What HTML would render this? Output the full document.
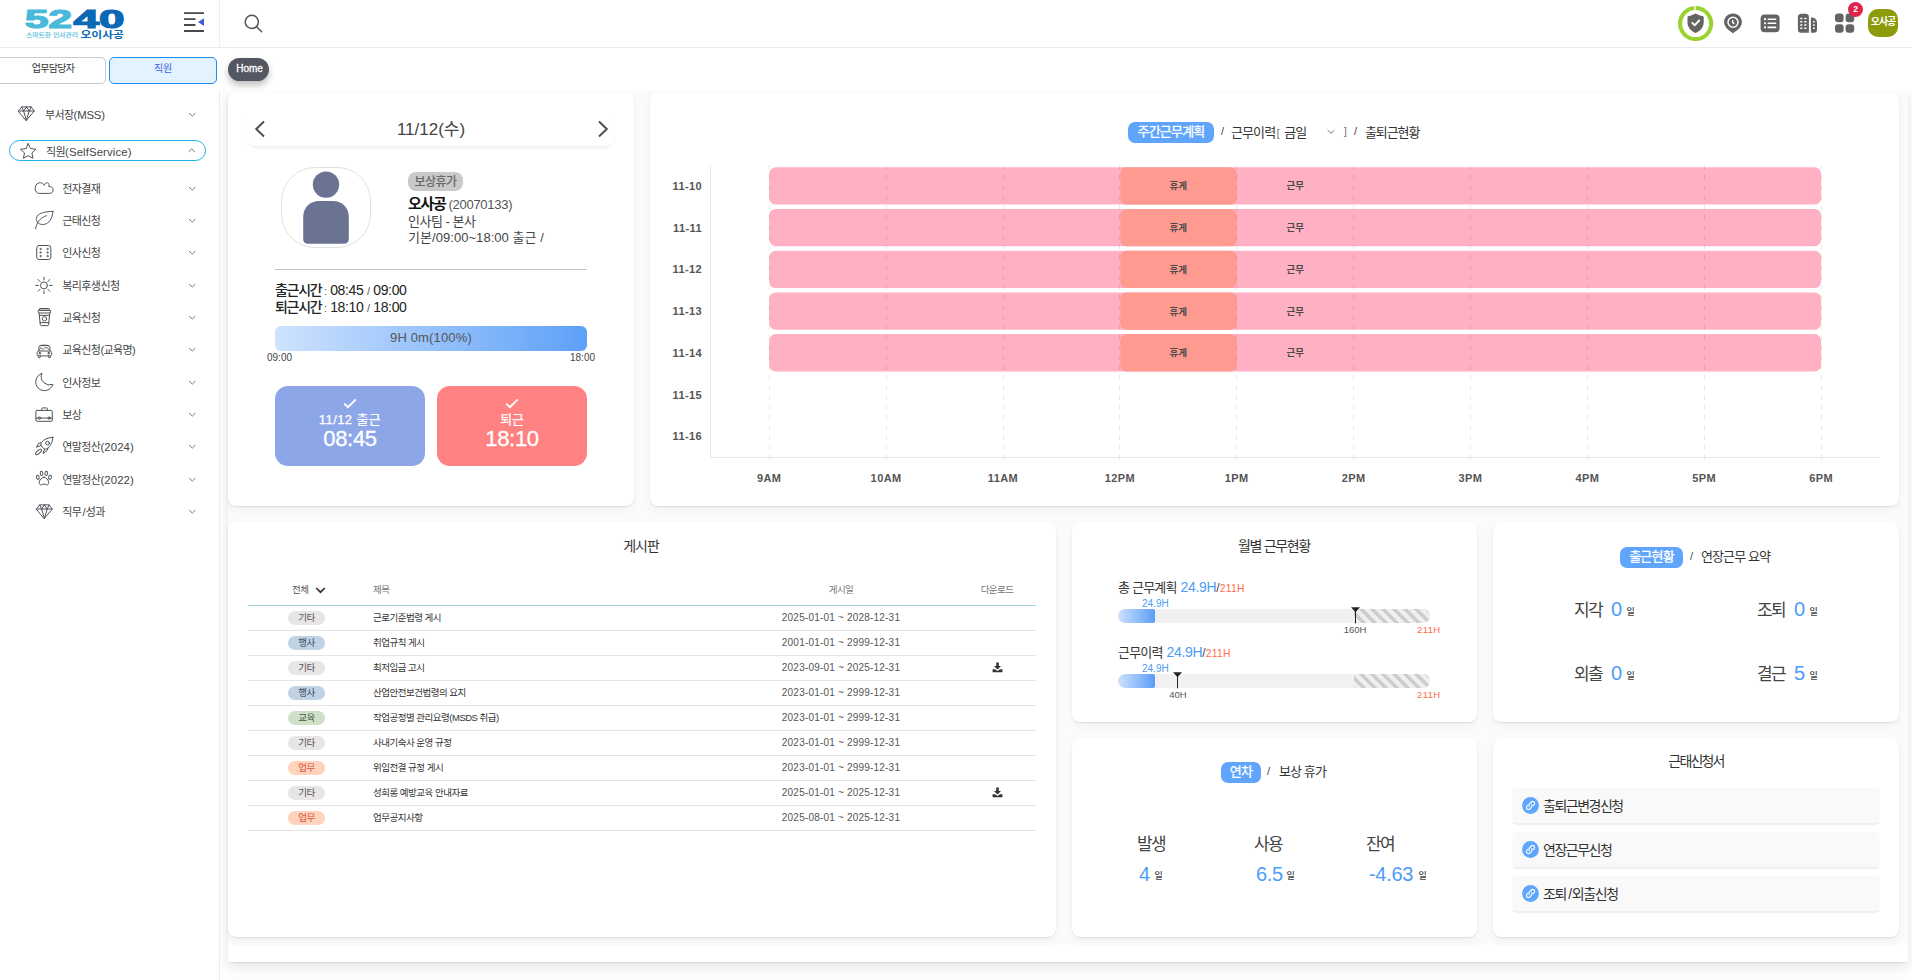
<!DOCTYPE html>
<html lang="ko">
<head>
<meta charset="utf-8">
<title>5240 오이사공</title>
<style>
*{box-sizing:border-box;margin:0;padding:0}
html,body{width:1912px;height:980px;overflow:hidden}
body{position:relative;background:#fdfdfd;font-family:"Liberation Sans","Noto Sans CJK KR","NanumGothic",sans-serif;color:#333;font-size:12px;-webkit-font-smoothing:antialiased}
.abs{position:absolute}
svg{display:block;overflow:visible}
/* header */
#header{position:absolute;left:0;top:0;width:1912px;height:48px;background:#fff;border-bottom:1px solid #ebebeb}
#sidebar{position:absolute;left:0;top:48px;width:220px;height:932px;background:#fff;border-right:1px solid #ececec}
#hdrsep{position:absolute;left:219px;top:0;width:1px;height:48px;background:#ececec}
#tabbar{position:absolute;left:219px;top:48px;width:1693px;height:43px;background:#fff}
.tabbtn{position:absolute;top:57px;height:27px;border-radius:5px;font-size:10px;text-align:center;line-height:22px;letter-spacing:-0.3px}
#homepill{position:absolute;left:228px;top:58px;width:41px;height:23px;border-radius:12px;background:#535663;color:#fff;font-size:10px;text-align:center;line-height:22.5px;box-shadow:0 4px 7px rgba(0,0,0,.26);letter-spacing:-0.1px;-webkit-text-stroke:0.3px #fff;padding-left:2px}
/* sidebar menu */
.mi{position:absolute;left:0;width:219px;height:22px;font-size:11px;color:#444;letter-spacing:-0.6px}
.mi .tx{position:absolute;top:0.8px;line-height:22px;white-space:nowrap}
.mi svg.ic{position:absolute}
.mi svg.cv{position:absolute;left:188px;top:8px}
/* cards */
.card{position:absolute;background:#fff;border-radius:8px;box-shadow:0 1px 1.5px rgba(0,0,0,.09),0 4px 8px rgba(0,0,0,.045)}
#panel{position:absolute;left:228px;top:91px;width:1680px;height:871px;background:#fff;border-radius:0 0 2px 2px;box-shadow:0 1px 1px rgba(0,0,0,.08),0 5px 12px rgba(0,0,0,.09)}
#dash{position:absolute;left:228px;top:91px;width:1680px;height:854px;background:#fbfbfb}
.t{position:absolute;white-space:nowrap;line-height:1}
.pill{position:absolute;background:#5ea5fb;color:#fff;border-radius:7px;text-align:center;white-space:nowrap}
.blue{color:#4c9cf8}
.org{color:#ff6a4d}
</style>
</head>
<body>
<div id="panel"></div>
<div id="dash"></div>
<div id="header"></div>
<div id="hdrsep"></div>
<div id="sidebar"></div>
<div id="tabbar"></div>

<svg class="abs" style="left:0;top:0" width="220" height="48" viewBox="0 0 220 48">
<text x="25" y="27.6" font-family="'Liberation Sans',sans-serif" font-weight="700" font-size="25" fill="#48b9d9" textLength="47" lengthAdjust="spacingAndGlyphs" stroke="#48b9d9" stroke-width="1.2">52</text>
<text x="73.5" y="27.6" font-family="'Liberation Sans',sans-serif" font-weight="700" font-size="25" fill="#0b68b4" textLength="51" lengthAdjust="spacingAndGlyphs" stroke="#0b68b4" stroke-width="1.2">40</text>
<text x="26" y="37" font-family="'Liberation Sans','Noto Sans CJK KR',sans-serif" font-size="5.6" font-weight="500" fill="#48b9d9" textLength="52" lengthAdjust="spacingAndGlyphs">스마트한 인사관리</text>
<text x="80.5" y="37.7" font-family="'Liberation Sans','Noto Sans CJK KR',sans-serif" font-weight="700" font-size="9.2" fill="#0b68b4" textLength="43.5" lengthAdjust="spacingAndGlyphs">오이사공</text>
</svg>
<svg class="abs" style="left:184px;top:12px" width="22" height="21" viewBox="0 0 22 21">
<g stroke="#4a4a4a" stroke-width="1.8" fill="none"><path d="M0 1.2H20M0 7.2H11.5M0 13H11.5M0 19H20"/></g>
<path d="M14 10.1L20 6.2V14Z" fill="#3f5bd9"/>
</svg>
<svg class="abs" style="left:243px;top:13px" width="20" height="20" viewBox="0 0 20 20">
<circle cx="8.8" cy="8.9" r="6.6" fill="none" stroke="#555" stroke-width="1.5"/><path d="M13.6 13.8L18.6 18.8" stroke="#555" stroke-width="1.5" stroke-linecap="round"/>
</svg>
<svg class="abs" style="left:1676px;top:4px" width="40" height="40" viewBox="0 0 40 40">
<circle cx="19.6" cy="19.6" r="15.55" fill="none" stroke="#9bd230" stroke-width="4.1"/>
<path d="M18.85 1V6.4" stroke="#fff" stroke-width="1.3"/>
<path d="M19.6 9.4C17.6 10.6 15 11.6 12.6 11.9C12 12 11.5 12.5 11.5 13.1V18.4C11.5 23.4 15.2 27 19.6 29C24 27 27.7 23.4 27.7 18.4V13.1C27.7 12.5 27.2 12 26.6 11.9C24.2 11.6 21.6 10.6 19.6 9.4Z" fill="#646464"/>
<path d="M16.2 18.9L18.8 21.2L23.2 16.5" fill="none" stroke="#fff" stroke-width="1.9" stroke-linecap="round" stroke-linejoin="round"/>
</svg>
<svg class="abs" style="left:1723px;top:13px" width="20" height="21" viewBox="0 0 20 21">
<path d="M10 0.4C4.9 0.4 1.1 4.2 1.1 9.1C1.1 12.6 3.2 15.2 5.6 17C7.4 18.4 8.8 19.2 10 20.4C11.2 19.2 12.6 18.4 14.4 17C16.8 15.2 18.9 12.6 18.9 9.1C18.9 4.2 15.1 0.4 10 0.4Z" fill="#636363"/>
<circle cx="10" cy="9.3" r="5" fill="none" stroke="#fff" stroke-width="1.5"/><path d="M9.7 7.4V9.5L10.9 10.5" fill="none" stroke="#fff" stroke-width="1.4" stroke-linecap="round"/>
</svg>
<svg class="abs" style="left:1760px;top:14px" width="20" height="19" viewBox="0 0 20 19">
<rect x="0.6" y="0.4" width="19" height="17.8" rx="4" fill="#636363"/>
<g stroke="#fff" stroke-width="1.6" stroke-linecap="round"><path d="M8.2 5.2H15.6M8.2 9.3H15.6M8.2 13.4H15.6"/></g><g fill="#fff"><circle cx="5" cy="5.2" r="1.1"/><circle cx="5" cy="9.3" r="1.1"/><circle cx="5" cy="13.4" r="1.1"/></g>
</svg>
<svg class="abs" style="left:1797px;top:13px" width="21" height="21" viewBox="0 0 21 21">
<path d="M4.1 0.8H8.8C10.6 0.8 11.9 2.1 11.9 3.9V19.8H4C2.2 19.8 0.9 18.5 0.9 16.7V3.9C0.9 2.1 2.3 0.8 4.1 0.8Z" fill="#636363"/>
<path d="M13.9 4.6H14.6C17.8 4.6 20 6.8 20 10V16.8C20 18.6 18.8 19.8 17 19.8H13.9Z" fill="#636363"/>
<g fill="#fff"><rect x="3.2" y="4.7" width="2.2" height="1.6" rx="0.3"/><rect x="7.3" y="4.7" width="2.2" height="1.6" rx="0.3"/><rect x="3.2" y="7.9" width="2.2" height="1.6" rx="0.3"/><rect x="7.3" y="7.9" width="2.2" height="1.6" rx="0.3"/><rect x="3.2" y="11.2" width="2.2" height="1.6" rx="0.3"/><rect x="7.3" y="11.2" width="2.2" height="1.6" rx="0.3"/><rect x="3.2" y="14.4" width="2.2" height="1.6" rx="0.3"/><rect x="7.3" y="14.4" width="2.2" height="1.6" rx="0.3"/><rect x="16.0" y="7.9" width="1.8" height="1.6" rx="0.3"/><rect x="16.0" y="11.2" width="1.8" height="1.6" rx="0.3"/><rect x="16.0" y="14.4" width="1.8" height="1.6" rx="0.3"/></g>
</svg>
<svg class="abs" style="left:1835px;top:13px" width="20" height="20" viewBox="0 0 20 20">
<g fill="#636363"><rect x="0" y="0.6" width="8.6" height="8.6" rx="3"/><rect x="10.6" y="0.6" width="8.6" height="8.6" rx="3"/><rect x="0" y="11.2" width="8.6" height="8.6" rx="3"/><rect x="10.6" y="11.2" width="8.6" height="8.6" rx="3"/></g>
</svg>
<div class="abs" style="left:1848.2px;top:2.4px;width:14.8px;height:14.2px;border-radius:8px;background:#e0234d;color:#fff;font-size:8.5px;font-weight:700;text-align:center;line-height:14.5px">2</div>
<div class="abs" style="left:1868px;top:9px;width:30px;height:28px;border-radius:10px;background:#8d9b0b;color:#fff;font-size:10px;font-weight:700;text-align:center;line-height:26px;letter-spacing:-1px">오사공</div>
<div class="tabbtn" style="left:-3px;width:109px;background:#fff;border:1px solid #c9c9c9;color:#333;padding-left:3px;letter-spacing:-0.7px">업무담당자</div>
<div class="tabbtn" style="left:109px;width:108px;background:#e3f2ff;border:1.5px solid #1f8df5;color:#3a63e0">직원</div>
<div id="homepill">Home</div>
<div class="mi" style="top:103px"><svg class="ic" style="left:18px;top:3.0px" width="19" height="19" viewBox="0 0 19 19"><g stroke="#4f5359" stroke-width="1" fill="none" stroke-linejoin="round" stroke-linecap="round"><path d="M0.5 5L3.7 0.9H13.1L16.3 5L8.4 14.3Z M0.5 5H16.3 M3.7 0.9L5.6 5L8.4 14.3 M13.1 0.9L11.2 5L8.4 14.3 M8.4 0.9L5.6 5 M8.4 0.9L11.2 5"/></g></svg><span class="tx" style="left:45px">부서장<span style="letter-spacing:-0.2px;font-size:11.4px">(MSS)</span></span><svg class="cv" width="9" height="7" viewBox="0 0 9 7"><path d="M1.2 2.1L4.3 5.1L7.4 2.1" stroke="#74777c" stroke-width="1" fill="none" stroke-linejoin="round"/></svg></div>
<div class="abs" style="left:9px;top:140px;width:197px;height:21px;border:1.5px solid #1bb4ea;border-radius:10.5px"></div>
<div class="mi" style="top:140px"><svg class="ic" style="left:18.5px;top:1.5px" width="19" height="19" viewBox="0 0 19 19"><g stroke="#4f5359" stroke-width="1" fill="none" stroke-linejoin="round" stroke-linecap="round"><path d="M9.20 1.65L11.49 6.59L16.90 7.25L12.91 10.96L13.96 16.30L9.20 13.65L4.44 16.30L5.49 10.96L1.50 7.25L6.91 6.59Z"/></g></svg><span class="tx" style="left:46px">직원<span style="letter-spacing:0.1px;font-size:11.4px">(SelfService)</span></span><svg class="cv" width="9" height="7" viewBox="0 0 9 7"><path d="M0.5 3.9L3.65 0.9L6.8 3.9" stroke="#74777c" stroke-width="1" fill="none" stroke-linejoin="round"/></svg></div>
<div class="mi" style="top:177px"><svg class="ic" style="left:35px;top:5.0px" width="19" height="19" viewBox="0 0 19 19"><g stroke="#4f5359" stroke-width="1" fill="none" stroke-linejoin="round" stroke-linecap="round"><path d="M3.8 11.4C1.6 11.4 0.2 9.2 0.2 6.4C0.2 3 2.4 0.7 5.3 0.7C7 0.7 8.5 1.8 9.3 3.4C9.6 1.8 10.6 0.85 11.6 0.85C13 0.85 14 1.6 14.2 2.6C14 3.2 13.8 3.8 13.6 4.3C16.2 4.3 18.1 5.6 18.1 7.8C18.1 9.8 16.8 11.4 15 11.4Z"/></g></svg><span class="tx" style="left:62.3px">전자결재</span><svg class="cv" width="9" height="7" viewBox="0 0 9 7"><path d="M1.2 2.1L4.3 5.1L7.4 2.1" stroke="#74777c" stroke-width="1" fill="none" stroke-linejoin="round"/></svg></div>
<div class="mi" style="top:209px"><svg class="ic" style="left:35px;top:2.0px" width="19" height="19" viewBox="0 0 19 19"><g stroke="#4f5359" stroke-width="1" fill="none" stroke-linejoin="round" stroke-linecap="round"><path d="M17.9 0.4C11 0.6 4.6 1.6 2.2 5.2C0.4 8.2 1.6 11.4 4.4 12.8C8 14.4 12.4 13.2 15 9.6C17 6.8 17.7 3.4 17.9 0.4Z M0.6 17.7C1.6 11.6 5 6.6 11.5 4.7"/></g></svg><span class="tx" style="left:62.3px">근태신청</span><svg class="cv" width="9" height="7" viewBox="0 0 9 7"><path d="M1.2 2.1L4.3 5.1L7.4 2.1" stroke="#74777c" stroke-width="1" fill="none" stroke-linejoin="round"/></svg></div>
<div class="mi" style="top:241px"><svg class="ic" style="left:35px;top:2.0px" width="19" height="19" viewBox="0 0 19 19"><g stroke="#4f5359" stroke-width="1" fill="none" stroke-linejoin="round" stroke-linecap="round"><rect x="1.7" y="2.5" width="14.2" height="14" rx="2.4"/><g stroke-width="0.8"><circle cx="5.5" cy="6" r="0.7"/><circle cx="12.5" cy="6" r="0.7"/><circle cx="5.5" cy="9.5" r="0.7"/><circle cx="12.5" cy="9.5" r="0.7"/><circle cx="5.5" cy="13.1" r="0.7"/><circle cx="12.5" cy="13.1" r="0.7"/></g></g></svg><span class="tx" style="left:62.3px">인사신청</span><svg class="cv" width="9" height="7" viewBox="0 0 9 7"><path d="M1.2 2.1L4.3 5.1L7.4 2.1" stroke="#74777c" stroke-width="1" fill="none" stroke-linejoin="round"/></svg></div>
<div class="mi" style="top:274px"><svg class="ic" style="left:35px;top:2.0px" width="19" height="19" viewBox="0 0 19 19"><g stroke="#4f5359" stroke-width="1" fill="none" stroke-linejoin="round" stroke-linecap="round"><circle cx="8.95" cy="9.4" r="3.5"/><path d="M14.45 9.40L17.25 9.40M12.84 13.29L14.82 15.27M8.95 14.90L8.95 17.70M5.06 13.29L3.08 15.27M3.45 9.40L0.65 9.40M5.06 5.51L3.08 3.53M8.95 3.90L8.95 1.10M12.84 5.51L14.82 3.53"/></g></svg><span class="tx" style="left:62.3px">복리후생신청</span><svg class="cv" width="9" height="7" viewBox="0 0 9 7"><path d="M1.2 2.1L4.3 5.1L7.4 2.1" stroke="#74777c" stroke-width="1" fill="none" stroke-linejoin="round"/></svg></div>
<div class="mi" style="top:306px"><svg class="ic" style="left:35px;top:2.0px" width="19" height="19" viewBox="0 0 19 19"><g stroke="#4f5359" stroke-width="1" fill="none" stroke-linejoin="round" stroke-linecap="round"><path d="M5.2 0.5H13.7C14.1 0.5 14.4 0.8 14.4 1.2V2.3H4.5V1.2C4.5 0.8 4.8 0.5 5.2 0.5Z M3.9 2.3H15C15.4 2.3 15.7 2.6 15.7 3V4.3C15.7 4.7 15.4 5 15 5H3.9C3.5 5 3.2 4.7 3.2 4.3V3C3.2 2.6 3.5 2.3 3.9 2.3Z M4.1 5L5.3 16.8C5.35 17.3 5.7 17.6 6.2 17.6H12.7C13.2 17.6 13.55 17.3 13.6 16.8L14.8 5 M4.35 7.4H14.55 M5.1 14.6H13.8"/><circle cx="9.45" cy="10.8" r="2.2"/></g></svg><span class="tx" style="left:62.3px">교육신청</span><svg class="cv" width="9" height="7" viewBox="0 0 9 7"><path d="M1.2 2.1L4.3 5.1L7.4 2.1" stroke="#74777c" stroke-width="1" fill="none" stroke-linejoin="round"/></svg></div>
<div class="mi" style="top:338px"><svg class="ic" style="left:35px;top:2.0px" width="19" height="19" viewBox="0 0 19 19"><g stroke="#4f5359" stroke-width="1" fill="none" stroke-linejoin="round" stroke-linecap="round"><path d="M3.9 11V7.6C3.9 6.4 4.7 5.6 5.9 5.6H12.9C14.1 5.6 14.9 6.4 14.9 7.6V11 M5 5.7C7.4 4.9 11.4 4.9 13.8 5.7 M3.9 11C2.8 11 2.1 11.8 2.1 12.8V14.4C2.1 15.3 2.7 15.9 3.6 15.9H15.2C16.1 15.9 16.7 15.3 16.7 14.4V12.8C16.7 11.8 16 11 14.9 11Z M3.3 15.9V16.9C3.3 17.5 3.7 17.9 4.3 17.9C4.9 17.9 5.3 17.5 5.3 16.9V15.9 M13.5 15.9V16.9C13.5 17.5 13.9 17.9 14.5 17.9C15.1 17.9 15.5 17.5 15.5 16.9V15.9 M4.2 9.6C5.6 7.4 7 7.4 8 9.4 M9 8.4C10 7.2 12.4 7.2 14.4 9.6"/><rect x="4" y="12.6" width="1.9" height="1.3" rx="0.4"/><rect x="12.9" y="12.6" width="1.9" height="1.3" rx="0.4"/></g></svg><span class="tx" style="left:62.3px">교육신청(교육명)</span><svg class="cv" width="9" height="7" viewBox="0 0 9 7"><path d="M1.2 2.1L4.3 5.1L7.4 2.1" stroke="#74777c" stroke-width="1" fill="none" stroke-linejoin="round"/></svg></div>
<div class="mi" style="top:371px"><svg class="ic" style="left:35px;top:2.0px" width="19" height="19" viewBox="0 0 19 19"><g stroke="#4f5359" stroke-width="1" fill="none" stroke-linejoin="round" stroke-linecap="round"><path d="M6.7 0.5A8.8 8.8 0 1 0 17.9 11.3A8.5 8.5 0 0 1 6.7 0.5Z"/></g></svg><span class="tx" style="left:62.3px">인사정보</span><svg class="cv" width="9" height="7" viewBox="0 0 9 7"><path d="M1.2 2.1L4.3 5.1L7.4 2.1" stroke="#74777c" stroke-width="1" fill="none" stroke-linejoin="round"/></svg></div>
<div class="mi" style="top:403px"><svg class="ic" style="left:35px;top:2.0px" width="19" height="19" viewBox="0 0 19 19"><g stroke="#4f5359" stroke-width="1" fill="none" stroke-linejoin="round" stroke-linecap="round"><rect x="0.9" y="5.4" width="16.4" height="10.9" rx="1.2"/><path d="M6.7 5.4V3.9C6.7 3.3 7.1 2.9 7.7 2.9H11.4C12 2.9 12.4 3.3 12.4 3.9V5.4 M0.9 13.1H17.3"/><circle cx="4.4" cy="13.1" r="1.15"/><circle cx="14.1" cy="13.1" r="1.15"/></g></svg><span class="tx" style="left:62.3px">보상</span><svg class="cv" width="9" height="7" viewBox="0 0 9 7"><path d="M1.2 2.1L4.3 5.1L7.4 2.1" stroke="#74777c" stroke-width="1" fill="none" stroke-linejoin="round"/></svg></div>
<div class="mi" style="top:435px"><svg class="ic" style="left:35px;top:2.0px" width="19" height="19" viewBox="0 0 19 19"><g stroke="#4f5359" stroke-width="1" fill="none" stroke-linejoin="round" stroke-linecap="round"><path d="M17.8 0.3C12.6 0.5 8.6 2.6 6.2 5.6C5.6 7 5.8 8.6 6.9 9.8C7.8 10.9 8.8 11.7 9.8 12.1C11.2 12.2 12.4 11.8 13.2 10.8C16.4 7.6 17.7 4.2 17.8 0.3Z M6.2 5.6L3.6 6.4L1.4 10.2L6.1 8.4 M13.2 10.8L12 13.6L8 16.6L9.6 12.1"/><ellipse cx="3.5" cy="15" rx="3.7" ry="1.5" transform="rotate(-42 3.5 15)"/><circle cx="12.5" cy="6.1" r="1.85"/></g></svg><span class="tx" style="left:62.3px">연말정산<span style="letter-spacing:0.1px;font-size:11.4px">(2024)</span></span><svg class="cv" width="9" height="7" viewBox="0 0 9 7"><path d="M1.2 2.1L4.3 5.1L7.4 2.1" stroke="#74777c" stroke-width="1" fill="none" stroke-linejoin="round"/></svg></div>
<div class="mi" style="top:468px"><svg class="ic" style="left:35px;top:2.0px" width="19" height="19" viewBox="0 0 19 19"><g stroke="#4f5359" stroke-width="1" fill="none" stroke-linejoin="round" stroke-linecap="round"><path d="M8.95 7.2C11.4 7.2 13.7 10.4 13.7 12.7C13.7 14.1 12.8 14.9 11.6 14.9C10.6 14.9 9.9 13.9 8.95 13.9C8 13.9 7.3 14.9 6.3 14.9C5.1 14.9 4.2 14.1 4.2 12.7C4.2 10.4 6.5 7.2 8.95 7.2Z"/><ellipse cx="2.8" cy="7.3" rx="1.35" ry="2.1" transform="rotate(-14 2.8 7.3)"/><ellipse cx="6.55" cy="3.4" rx="1.3" ry="2.2" transform="rotate(-6 6.55 3.4)"/><ellipse cx="11.2" cy="3.4" rx="1.3" ry="2.2" transform="rotate(6 11.2 3.4)"/><ellipse cx="15" cy="7.3" rx="1.35" ry="2.1" transform="rotate(14 15 7.3)"/></g></svg><span class="tx" style="left:62.3px">연말정산<span style="letter-spacing:0.1px;font-size:11.4px">(2022)</span></span><svg class="cv" width="9" height="7" viewBox="0 0 9 7"><path d="M1.2 2.1L4.3 5.1L7.4 2.1" stroke="#74777c" stroke-width="1" fill="none" stroke-linejoin="round"/></svg></div>
<div class="mi" style="top:500px"><svg class="ic" style="left:35.5px;top:3.8px" width="19" height="19" viewBox="0 0 19 19"><g stroke="#4f5359" stroke-width="1" fill="none" stroke-linejoin="round" stroke-linecap="round"><path d="M0.5 5L3.7 0.9H13.1L16.3 5L8.4 14.3Z M0.5 5H16.3 M3.7 0.9L5.6 5L8.4 14.3 M13.1 0.9L11.2 5L8.4 14.3 M8.4 0.9L5.6 5 M8.4 0.9L11.2 5"/></g></svg><span class="tx" style="left:62.3px">직무<span style="font-size:11.4px;margin:0 0.6px 0 1.2px">/</span>성과</span><svg class="cv" width="9" height="7" viewBox="0 0 9 7"><path d="M1.2 2.1L4.3 5.1L7.4 2.1" stroke="#74777c" stroke-width="1" fill="none" stroke-linejoin="round"/></svg></div>
<div class="card" style="left:228px;top:92px;width:406px;height:414px"></div>
<div class="abs" style="left:248px;top:108px;width:366px;height:38px;background:#fff;border-radius:8px;box-shadow:0 3px 4px -2px rgba(0,0,0,.10)"></div>
<svg class="abs" style="left:254px;top:119.5px" width="12" height="18" viewBox="0 0 12 18"><path d="M10 1.5L2.2 9L10 16.5" fill="none" stroke="#4c4c4c" stroke-width="1.9"/></svg>
<svg class="abs" style="left:596.5px;top:119.5px" width="12" height="18" viewBox="0 0 12 18"><path d="M2 1.5L9.8 9L2 16.5" fill="none" stroke="#4c4c4c" stroke-width="1.9"/></svg>
<div class="t" style="left:331px;top:120.5px;width:200px;text-align:center;font-size:17px;color:#444;letter-spacing:0px">11/12(수)</div>
<div class="abs" style="left:281px;top:167px;width:90px;height:81px;border:1px solid #e0e0e0;border-radius:34px;background:#fff"></div>
<svg class="abs" style="left:281px;top:167px" width="90" height="81" viewBox="0 0 90 81"><circle cx="45" cy="17.6" r="13.2" fill="#6a7391"/><path d="M22.2 50C22.2 40.5 29 34 38 34H52C61 34 67.8 40.5 67.8 50V72C67.8 75 66 76.8 63 76.8H27C24 76.8 22.2 75 22.2 72Z" fill="#6a7391"/></svg>
<div class="abs" style="left:408px;top:172px;width:55px;height:19px;border-radius:8px;background:#c9c9c9;color:#666;font-size:12px;text-align:center;line-height:20.5px;letter-spacing:-0.5px;font-weight:500">보상휴가</div>
<div class="t" style="left:408px;top:196px;font-size:15px;color:#111;font-weight:700;letter-spacing:-1.3px">오사공 <span style="font-size:13px;font-weight:400;color:#555;letter-spacing:-0.25px">(20070133)</span></div>
<div class="t" style="left:408px;top:214.5px;font-size:13px;color:#444;letter-spacing:-0.5px">인사팀 - 본사</div>
<div class="t" style="left:408px;top:231px;font-size:13px;color:#444;letter-spacing:0.05px">기본/09:00~18:00 출근 /</div>
<div class="abs" style="left:275px;top:269px;width:312px;height:1px;background:#c4c4c4"></div>
<div class="t" style="left:275px;top:283px;font-size:14px;color:#222;letter-spacing:-0.35px"><span style="letter-spacing:-1.3px;font-weight:500">출근시간</span> <span style="font-size:11px;color:#555;margin-left:-1px">:</span> 08:45 <span style="font-size:11px;color:#555">/</span> 09:00</div>
<div class="t" style="left:275px;top:300px;font-size:14px;color:#222;letter-spacing:-0.35px"><span style="letter-spacing:-1.3px;font-weight:500">퇴근시간</span> <span style="font-size:11px;color:#555;margin-left:-1px">:</span> 18:10 <span style="font-size:11px;color:#555">/</span> 18:00</div>
<div class="abs" style="left:275px;top:326px;width:312px;height:25px;border-radius:6px;background:linear-gradient(90deg,#cfe3fe,#5da0f8);color:#555;font-size:13px;text-align:center;line-height:24.5px;letter-spacing:0.15px">9H 0m(100%)</div>
<div class="t" style="left:267px;top:353px;font-size:10px;color:#444">09:00</div>
<div class="t" style="left:570px;top:353px;font-size:10px;color:#444">18:00</div>
<div class="abs" style="left:275px;top:386px;width:150px;height:80px;border-radius:13px;background:#8da6e8"></div>
<div class="abs" style="left:437px;top:386px;width:150px;height:80px;border-radius:13px;background:#ff8181"></div>
<svg class="abs" style="left:343px;top:398px" width="14" height="11" viewBox="0 0 14 11"><path d="M1.2 5.6L5 9.2L12.8 1.4" fill="none" stroke="#fff" stroke-width="1.9"/></svg>
<svg class="abs" style="left:505px;top:398px" width="14" height="11" viewBox="0 0 14 11"><path d="M1.2 5.6L5 9.2L12.8 1.4" fill="none" stroke="#fff" stroke-width="1.9"/></svg>
<div class="t" style="left:275px;top:413px;width:150px;text-align:center;font-size:13px;color:#fff;letter-spacing:0.4px;-webkit-text-stroke:0.25px #fff">11/12 출근</div>
<div class="t" style="left:275px;top:427.5px;width:150px;text-align:center;font-size:22px;color:#fff;letter-spacing:-0.3px;-webkit-text-stroke:0.3px #fff">08:45</div>
<div class="t" style="left:437px;top:413px;width:150px;text-align:center;font-size:13px;color:#fff;letter-spacing:-0.3px;-webkit-text-stroke:0.25px #fff">퇴근</div>
<div class="t" style="left:437px;top:427.5px;width:150px;text-align:center;font-size:22px;color:#fff;letter-spacing:-0.3px;-webkit-text-stroke:0.3px #fff">18:10</div>
<div class="card" style="left:650px;top:92px;width:1249px;height:414px"></div>
<div class="pill" style="left:1128px;top:122px;width:86px;height:21px;font-size:13px;line-height:20px;letter-spacing:-0.8px;-webkit-text-stroke:0.3px #fff">주간근무계획</div>
<div class="t" style="left:1221px;top:126px;font-size:11px;color:#444">/</div>
<div class="t" style="left:1231px;top:125.5px;font-size:13px;color:#333;letter-spacing:-0.9px">근무이력<span style="font-size:10px;color:#666;margin-left:1.5px">[</span><span style="margin-left:5.5px">금일</span></div>
<svg class="abs" style="left:1325.5px;top:129px" width="10" height="6" viewBox="0 0 10 6"><path d="M1.6 1L5 4.3L8.4 1" fill="none" stroke="#777" stroke-width="1"/></svg>
<div class="t" style="left:1344px;top:127px;font-size:10px;color:#666">]</div>
<div class="t" style="left:1354px;top:126px;font-size:11px;color:#444">/</div>
<div class="t" style="left:1365px;top:125.5px;font-size:13px;color:#333;letter-spacing:-1.1px">출퇴근현황</div>
<svg class="abs" style="left:650px;top:92px" width="1249" height="413" viewBox="650 92 1249 413">
<rect x="769.2" y="167.2" width="1051.9" height="37.4" rx="6.6" fill="#ffb0c2"/>
<rect x="1120.2" y="167.2" width="116.5" height="37.4" rx="6.6" fill="#ff9a90"/>
<rect x="769.2" y="208.9" width="1051.9" height="37.4" rx="6.6" fill="#ffb0c2"/>
<rect x="1120.2" y="208.9" width="116.5" height="37.4" rx="6.6" fill="#ff9a90"/>
<rect x="769.2" y="250.7" width="1051.9" height="37.4" rx="6.6" fill="#ffb0c2"/>
<rect x="1120.2" y="250.7" width="116.5" height="37.4" rx="6.6" fill="#ff9a90"/>
<rect x="769.2" y="292.4" width="1051.9" height="37.4" rx="6.6" fill="#ffb0c2"/>
<rect x="1120.2" y="292.4" width="116.5" height="37.4" rx="6.6" fill="#ff9a90"/>
<rect x="769.2" y="334.1" width="1051.9" height="37.4" rx="6.6" fill="#ffb0c2"/>
<rect x="1120.2" y="334.1" width="116.5" height="37.4" rx="6.6" fill="#ff9a90"/>
<path d="M769.5 165.0V463" stroke="#000" stroke-opacity="0.085" stroke-width="1" stroke-dasharray="5 5" fill="none"/>
<path d="M886.5 165.0V463" stroke="#000" stroke-opacity="0.085" stroke-width="1" stroke-dasharray="5 5" fill="none"/>
<path d="M1003.5 165.0V463" stroke="#000" stroke-opacity="0.085" stroke-width="1" stroke-dasharray="5 5" fill="none"/>
<path d="M1119.5 165.0V463" stroke="#000" stroke-opacity="0.085" stroke-width="1" stroke-dasharray="5 5" fill="none"/>
<path d="M1236.5 165.0V463" stroke="#000" stroke-opacity="0.085" stroke-width="1" stroke-dasharray="5 5" fill="none"/>
<path d="M1353.5 165.0V463" stroke="#000" stroke-opacity="0.085" stroke-width="1" stroke-dasharray="5 5" fill="none"/>
<path d="M1470.5 165.0V463" stroke="#000" stroke-opacity="0.085" stroke-width="1" stroke-dasharray="5 5" fill="none"/>
<path d="M1587.5 165.0V463" stroke="#000" stroke-opacity="0.085" stroke-width="1" stroke-dasharray="5 5" fill="none"/>
<path d="M1704.5 165.0V463" stroke="#000" stroke-opacity="0.085" stroke-width="1" stroke-dasharray="5 5" fill="none"/>
<path d="M1821.5 165.0V463" stroke="#000" stroke-opacity="0.085" stroke-width="1" stroke-dasharray="5 5" fill="none"/>
<path d="M710.5 165.0V457.5H1880" stroke="#e7e7e7" stroke-width="1" fill="none"/>
<text x="702" y="189.9" text-anchor="end" letter-spacing="0.4" font-family="'Liberation Sans',sans-serif" font-weight="700" font-size="11" fill="#555">11-10</text>
<text x="702" y="231.6" text-anchor="end" letter-spacing="0.4" font-family="'Liberation Sans',sans-serif" font-weight="700" font-size="11" fill="#555">11-11</text>
<text x="702" y="273.4" text-anchor="end" letter-spacing="0.4" font-family="'Liberation Sans',sans-serif" font-weight="700" font-size="11" fill="#555">11-12</text>
<text x="702" y="315.1" text-anchor="end" letter-spacing="0.4" font-family="'Liberation Sans',sans-serif" font-weight="700" font-size="11" fill="#555">11-13</text>
<text x="702" y="356.8" text-anchor="end" letter-spacing="0.4" font-family="'Liberation Sans',sans-serif" font-weight="700" font-size="11" fill="#555">11-14</text>
<text x="702" y="398.6" text-anchor="end" letter-spacing="0.4" font-family="'Liberation Sans',sans-serif" font-weight="700" font-size="11" fill="#555">11-15</text>
<text x="702" y="440.3" text-anchor="end" letter-spacing="0.4" font-family="'Liberation Sans',sans-serif" font-weight="700" font-size="11" fill="#555">11-16</text>
<text x="769.2" y="482" text-anchor="middle" letter-spacing="0.4" font-family="'Liberation Sans',sans-serif" font-weight="700" font-size="11" fill="#555">9AM</text>
<text x="886.1" y="482" text-anchor="middle" letter-spacing="0.4" font-family="'Liberation Sans',sans-serif" font-weight="700" font-size="11" fill="#555">10AM</text>
<text x="1003.0" y="482" text-anchor="middle" letter-spacing="0.4" font-family="'Liberation Sans',sans-serif" font-weight="700" font-size="11" fill="#555">11AM</text>
<text x="1119.8" y="482" text-anchor="middle" letter-spacing="0.4" font-family="'Liberation Sans',sans-serif" font-weight="700" font-size="11" fill="#555">12PM</text>
<text x="1236.7" y="482" text-anchor="middle" letter-spacing="0.4" font-family="'Liberation Sans',sans-serif" font-weight="700" font-size="11" fill="#555">1PM</text>
<text x="1353.6" y="482" text-anchor="middle" letter-spacing="0.4" font-family="'Liberation Sans',sans-serif" font-weight="700" font-size="11" fill="#555">2PM</text>
<text x="1470.5" y="482" text-anchor="middle" letter-spacing="0.4" font-family="'Liberation Sans',sans-serif" font-weight="700" font-size="11" fill="#555">3PM</text>
<text x="1587.4" y="482" text-anchor="middle" letter-spacing="0.4" font-family="'Liberation Sans',sans-serif" font-weight="700" font-size="11" fill="#555">4PM</text>
<text x="1704.2" y="482" text-anchor="middle" letter-spacing="0.4" font-family="'Liberation Sans',sans-serif" font-weight="700" font-size="11" fill="#555">5PM</text>
<text x="1821.1" y="482" text-anchor="middle" letter-spacing="0.4" font-family="'Liberation Sans',sans-serif" font-weight="700" font-size="11" fill="#555">6PM</text>
<text x="1178.3" y="189.4" text-anchor="middle" font-family="'Liberation Sans','Noto Sans CJK KR',sans-serif" font-weight="700" font-size="9.5" fill="#4a4a4a">휴게</text>
<text x="1295.2" y="189.4" text-anchor="middle" font-family="'Liberation Sans','Noto Sans CJK KR',sans-serif" font-weight="700" font-size="9.5" fill="#4a4a4a">근무</text>
<text x="1178.3" y="231.1" text-anchor="middle" font-family="'Liberation Sans','Noto Sans CJK KR',sans-serif" font-weight="700" font-size="9.5" fill="#4a4a4a">휴게</text>
<text x="1295.2" y="231.1" text-anchor="middle" font-family="'Liberation Sans','Noto Sans CJK KR',sans-serif" font-weight="700" font-size="9.5" fill="#4a4a4a">근무</text>
<text x="1178.3" y="272.9" text-anchor="middle" font-family="'Liberation Sans','Noto Sans CJK KR',sans-serif" font-weight="700" font-size="9.5" fill="#4a4a4a">휴게</text>
<text x="1295.2" y="272.9" text-anchor="middle" font-family="'Liberation Sans','Noto Sans CJK KR',sans-serif" font-weight="700" font-size="9.5" fill="#4a4a4a">근무</text>
<text x="1178.3" y="314.6" text-anchor="middle" font-family="'Liberation Sans','Noto Sans CJK KR',sans-serif" font-weight="700" font-size="9.5" fill="#4a4a4a">휴게</text>
<text x="1295.2" y="314.6" text-anchor="middle" font-family="'Liberation Sans','Noto Sans CJK KR',sans-serif" font-weight="700" font-size="9.5" fill="#4a4a4a">근무</text>
<text x="1178.3" y="356.3" text-anchor="middle" font-family="'Liberation Sans','Noto Sans CJK KR',sans-serif" font-weight="700" font-size="9.5" fill="#4a4a4a">휴게</text>
<text x="1295.2" y="356.3" text-anchor="middle" font-family="'Liberation Sans','Noto Sans CJK KR',sans-serif" font-weight="700" font-size="9.5" fill="#4a4a4a">근무</text>
</svg>
<div class="card" style="left:228px;top:522px;width:828px;height:415px"></div>
<div class="t" style="left:541px;top:539px;width:200px;text-align:center;font-size:14px;color:#333;letter-spacing:-1px">게시판</div>
<div class="t" style="left:292px;top:585px;font-size:9.5px;color:#555;letter-spacing:-0.6px">전체</div>
<svg class="abs" style="left:315px;top:587px" width="11" height="7" viewBox="0 0 11 7"><path d="M1.2 1L5.5 5.2L9.8 1" fill="none" stroke="#333" stroke-width="1.7"/></svg>
<div class="t" style="left:373px;top:585px;font-size:9.5px;color:#777;letter-spacing:-0.6px">제목</div>
<div class="t" style="left:791px;top:585px;width:100px;text-align:center;font-size:9.5px;color:#777;letter-spacing:-0.6px">게시일</div>
<div class="t" style="left:947px;top:585px;width:100px;text-align:center;font-size:9.5px;color:#777;letter-spacing:-0.6px">다운로드</div>
<div class="abs" style="left:248px;top:605px;width:788px;height:1px;background:#a5d3e3"></div>
<div class="abs" style="left:288px;top:610.7px;width:37px;height:14px;border-radius:7px;background:#e8e6e4;color:#555;font-size:9.5px;text-align:center;line-height:13.5px;letter-spacing:-0.5px">기타</div>
<div class="t" style="left:373px;top:612.7px;font-size:9.5px;color:#333;letter-spacing:-0.5px">근로기준법령 게시</div>
<div class="t" style="left:741px;top:612.7px;width:200px;text-align:center;font-size:10px;color:#555;letter-spacing:0.2px;margin-top:0.5px">2025-01-01 ~ 2028-12-31</div>
<div class="abs" style="left:248px;top:630px;width:788px;height:1px;background:#e3e3e3"></div>
<div class="abs" style="left:288px;top:635.7px;width:37px;height:14px;border-radius:7px;background:#c0d3e4;color:#3a4a5a;font-size:9.5px;text-align:center;line-height:13.5px;letter-spacing:-0.5px">행사</div>
<div class="t" style="left:373px;top:637.7px;font-size:9.5px;color:#333;letter-spacing:-0.5px">취업규칙 게시</div>
<div class="t" style="left:741px;top:637.7px;width:200px;text-align:center;font-size:10px;color:#555;letter-spacing:0.2px;margin-top:0.5px">2001-01-01 ~ 2999-12-31</div>
<div class="abs" style="left:248px;top:655px;width:788px;height:1px;background:#e3e3e3"></div>
<div class="abs" style="left:288px;top:660.7px;width:37px;height:14px;border-radius:7px;background:#e8e6e4;color:#555;font-size:9.5px;text-align:center;line-height:13.5px;letter-spacing:-0.5px">기타</div>
<div class="t" style="left:373px;top:662.7px;font-size:9.5px;color:#333;letter-spacing:-0.5px">최저임금 고시</div>
<div class="t" style="left:741px;top:662.7px;width:200px;text-align:center;font-size:10px;color:#555;letter-spacing:0.2px;margin-top:0.5px">2023-09-01 ~ 2025-12-31</div>
<svg class="abs" style="left:991.5px;top:662.2px" width="11" height="11" viewBox="0 0 11 11"><path d="M4.2 0.6H6.8V4H9L5.5 7.4L2 4H4.2Z" fill="#333"/><path d="M0.6 7.2H3L5.5 9L8 7.2H10.4V10.2H0.6Z" fill="#333"/></svg>
<div class="abs" style="left:248px;top:680px;width:788px;height:1px;background:#e3e3e3"></div>
<div class="abs" style="left:288px;top:685.7px;width:37px;height:14px;border-radius:7px;background:#c0d3e4;color:#3a4a5a;font-size:9.5px;text-align:center;line-height:13.5px;letter-spacing:-0.5px">행사</div>
<div class="t" style="left:373px;top:687.7px;font-size:9.5px;color:#333;letter-spacing:-0.5px">산업안전보건법령의 요지</div>
<div class="t" style="left:741px;top:687.7px;width:200px;text-align:center;font-size:10px;color:#555;letter-spacing:0.2px;margin-top:0.5px">2023-01-01 ~ 2999-12-31</div>
<div class="abs" style="left:248px;top:705px;width:788px;height:1px;background:#e3e3e3"></div>
<div class="abs" style="left:288px;top:710.7px;width:37px;height:14px;border-radius:7px;background:#cfe0c9;color:#3d5a3a;font-size:9.5px;text-align:center;line-height:13.5px;letter-spacing:-0.5px">교육</div>
<div class="t" style="left:373px;top:712.7px;font-size:9.5px;color:#333;letter-spacing:-0.5px">작업공정별 관리요령(MSDS 취급)</div>
<div class="t" style="left:741px;top:712.7px;width:200px;text-align:center;font-size:10px;color:#555;letter-spacing:0.2px;margin-top:0.5px">2023-01-01 ~ 2999-12-31</div>
<div class="abs" style="left:248px;top:730px;width:788px;height:1px;background:#e3e3e3"></div>
<div class="abs" style="left:288px;top:735.7px;width:37px;height:14px;border-radius:7px;background:#e8e6e4;color:#555;font-size:9.5px;text-align:center;line-height:13.5px;letter-spacing:-0.5px">기타</div>
<div class="t" style="left:373px;top:737.7px;font-size:9.5px;color:#333;letter-spacing:-0.5px">사내기숙사 운영 규정</div>
<div class="t" style="left:741px;top:737.7px;width:200px;text-align:center;font-size:10px;color:#555;letter-spacing:0.2px;margin-top:0.5px">2023-01-01 ~ 2999-12-31</div>
<div class="abs" style="left:248px;top:755px;width:788px;height:1px;background:#e3e3e3"></div>
<div class="abs" style="left:288px;top:760.7px;width:37px;height:14px;border-radius:7px;background:#ffd2bc;color:#d8553c;font-size:9.5px;text-align:center;line-height:13.5px;letter-spacing:-0.5px">업무</div>
<div class="t" style="left:373px;top:762.7px;font-size:9.5px;color:#333;letter-spacing:-0.5px">위임전결 규정 게시</div>
<div class="t" style="left:741px;top:762.7px;width:200px;text-align:center;font-size:10px;color:#555;letter-spacing:0.2px;margin-top:0.5px">2023-01-01 ~ 2999-12-31</div>
<div class="abs" style="left:248px;top:780px;width:788px;height:1px;background:#e3e3e3"></div>
<div class="abs" style="left:288px;top:785.7px;width:37px;height:14px;border-radius:7px;background:#e8e6e4;color:#555;font-size:9.5px;text-align:center;line-height:13.5px;letter-spacing:-0.5px">기타</div>
<div class="t" style="left:373px;top:787.7px;font-size:9.5px;color:#333;letter-spacing:-0.5px">성희롱 예방교육 안내자료</div>
<div class="t" style="left:741px;top:787.7px;width:200px;text-align:center;font-size:10px;color:#555;letter-spacing:0.2px;margin-top:0.5px">2025-01-01 ~ 2025-12-31</div>
<svg class="abs" style="left:991.5px;top:787.2px" width="11" height="11" viewBox="0 0 11 11"><path d="M4.2 0.6H6.8V4H9L5.5 7.4L2 4H4.2Z" fill="#333"/><path d="M0.6 7.2H3L5.5 9L8 7.2H10.4V10.2H0.6Z" fill="#333"/></svg>
<div class="abs" style="left:248px;top:805px;width:788px;height:1px;background:#e3e3e3"></div>
<div class="abs" style="left:288px;top:810.7px;width:37px;height:14px;border-radius:7px;background:#ffd2bc;color:#d8553c;font-size:9.5px;text-align:center;line-height:13.5px;letter-spacing:-0.5px">업무</div>
<div class="t" style="left:373px;top:812.7px;font-size:9.5px;color:#333;letter-spacing:-0.5px">업무공지사항</div>
<div class="t" style="left:741px;top:812.7px;width:200px;text-align:center;font-size:10px;color:#555;letter-spacing:0.2px;margin-top:0.5px">2025-08-01 ~ 2025-12-31</div>
<div class="abs" style="left:248px;top:830px;width:788px;height:1px;background:#e3e3e3"></div>
<div class="card" style="left:1072px;top:522px;width:405px;height:200px"></div>
<div class="t" style="left:1174px;top:539px;width:200px;text-align:center;font-size:14px;color:#333;letter-spacing:-1.3px">월별 근무현황</div>
<div class="t" style="left:1118px;top:580px;font-size:13px;color:#333;letter-spacing:-0.8px">총 근무계획 <span class="blue" style="font-size:14px;letter-spacing:-0.3px;margin-left:1px">24.9H</span><span style="font-size:12px;color:#444">/</span><span class="org" style="font-size:10.3px;letter-spacing:0.25px;margin-left:1px">211H</span></div>
<div class="t blue" style="left:1142px;top:598.7px;font-size:10px">24.9H</div>
<div class="abs" style="left:1118px;top:609px;width:312px;height:14px;border-radius:7px;background:#f1f1f1;overflow:hidden"><div class="abs" style="left:236px;top:0;width:76px;height:14px;background:repeating-linear-gradient(-135deg,#cdcdcd 0 3.6px,#efefef 3.6px 7.8px)"></div><div class="abs" style="left:0;top:0;width:37px;height:14px;border-radius:7px 2px 2px 7px;background:linear-gradient(90deg,#cde2fe,#5a9df6)"></div></div>
<svg class="abs" style="left:1350.5px;top:607px" width="9" height="17" viewBox="0 0 9 17"><path d="M0 0.2H9L4.5 5.2Z" fill="#222"/><path d="M4.5 4V16.4" stroke="#222" stroke-width="1"/></svg>
<div class="t" style="left:1325px;top:625px;width:60px;text-align:center;font-size:9.5px;color:#555">160H</div>
<div class="t org" style="letter-spacing:0.4px;left:1417px;top:625px;font-size:9.5px">211H</div>
<div class="t" style="left:1118px;top:645px;font-size:13px;color:#333;letter-spacing:-0.8px">근무이력 <span class="blue" style="font-size:14px;letter-spacing:-0.3px;margin-left:1px">24.9H</span><span style="font-size:12px;color:#444">/</span><span class="org" style="font-size:10.3px;letter-spacing:0.25px;margin-left:1px">211H</span></div>
<div class="t blue" style="left:1142px;top:663.7px;font-size:10px">24.9H</div>
<div class="abs" style="left:1118px;top:674px;width:312px;height:14px;border-radius:7px;background:#f1f1f1;overflow:hidden"><div class="abs" style="left:236px;top:0;width:76px;height:14px;background:repeating-linear-gradient(-135deg,#cdcdcd 0 3.6px,#efefef 3.6px 7.8px)"></div><div class="abs" style="left:0;top:0;width:37px;height:14px;border-radius:7px 2px 2px 7px;background:linear-gradient(90deg,#cde2fe,#5a9df6)"></div></div>
<svg class="abs" style="left:1173px;top:672px" width="9" height="17" viewBox="0 0 9 17"><path d="M0 0.2H9L4.5 5.2Z" fill="#222"/><path d="M4.5 4V16.4" stroke="#222" stroke-width="1"/></svg>
<div class="t" style="left:1148px;top:690px;width:60px;text-align:center;font-size:9.5px;color:#555">40H</div>
<div class="t org" style="letter-spacing:0.4px;left:1417px;top:690px;font-size:9.5px">211H</div>
<div class="card" style="left:1493px;top:522px;width:406px;height:200px"></div>
<div class="pill" style="left:1620px;top:547px;width:63px;height:21px;font-size:13px;line-height:20px;letter-spacing:-0.8px;-webkit-text-stroke:0.3px #fff">출근현황</div>
<div class="t" style="left:1690px;top:551px;font-size:11px;color:#444">/</div>
<div class="t" style="left:1701px;top:550px;font-size:13px;color:#333;letter-spacing:-0.9px">연장근무 요약</div>
<div class="t" style="left:1574px;top:600px;font-size:17px;color:#444;letter-spacing:-1.6px;margin-top:1.7px">지각</div>
<div class="t blue" style="left:1611px;top:599px;font-size:20px">0</div>
<div class="t" style="left:1627px;top:608px;font-size:9px;font-weight:500;color:#444;margin-left:-0.5px">일</div>
<div class="t" style="left:1757px;top:600px;font-size:17px;color:#444;letter-spacing:-1.6px;margin-top:1.7px">조퇴</div>
<div class="t blue" style="left:1794px;top:599px;font-size:20px">0</div>
<div class="t" style="left:1810px;top:608px;font-size:9px;font-weight:500;color:#444;margin-left:-0.5px">일</div>
<div class="t" style="left:1574px;top:664px;font-size:17px;color:#444;letter-spacing:-1.6px;margin-top:1.7px">외출</div>
<div class="t blue" style="left:1611px;top:663px;font-size:20px">0</div>
<div class="t" style="left:1627px;top:672px;font-size:9px;font-weight:500;color:#444;margin-left:-0.5px">일</div>
<div class="t" style="left:1757px;top:664px;font-size:17px;color:#444;letter-spacing:-1.6px;margin-top:1.7px">결근</div>
<div class="t blue" style="left:1794px;top:663px;font-size:20px">5</div>
<div class="t" style="left:1810px;top:672px;font-size:9px;font-weight:500;color:#444;margin-left:-0.5px">일</div>
<div class="card" style="left:1072px;top:738px;width:405px;height:199px"></div>
<div class="pill" style="left:1221px;top:762px;width:40px;height:21px;font-size:13px;line-height:20px;letter-spacing:-0.8px;-webkit-text-stroke:0.3px #fff">연차</div>
<div class="t" style="left:1267px;top:766px;font-size:11px;color:#444">/</div>
<div class="t" style="left:1279px;top:765px;font-size:13px;color:#333;letter-spacing:-0.9px">보상 휴가</div>
<div class="t" style="left:1137px;top:834px;font-size:17px;color:#444;letter-spacing:-1.6px;margin-top:1.7px">발생</div>
<div class="t blue" style="left:1139px;top:864px;font-size:20px;letter-spacing:-0.3px">4</div>
<div class="t" style="left:1155px;top:872px;font-size:9px;font-weight:500;color:#444;margin-left:-0.5px">일</div>
<div class="t" style="left:1254px;top:834px;font-size:17px;color:#444;letter-spacing:-1.6px;margin-top:1.7px">사용</div>
<div class="t blue" style="left:1256px;top:864px;font-size:20px;letter-spacing:-0.3px">6.5</div>
<div class="t" style="left:1287px;top:872px;font-size:9px;font-weight:500;color:#444;margin-left:-0.5px">일</div>
<div class="t" style="left:1366px;top:834px;font-size:17px;color:#444;letter-spacing:-1.6px;margin-top:1.7px">잔여</div>
<div class="t blue" style="left:1369px;top:864px;font-size:20px;letter-spacing:-0.3px">-4.63</div>
<div class="t" style="left:1419px;top:872px;font-size:9px;font-weight:500;color:#444;margin-left:-0.5px">일</div>
<div class="card" style="left:1493px;top:738px;width:406px;height:199px"></div>
<div class="t" style="left:1596px;top:754px;width:200px;text-align:center;font-size:14px;color:#333;letter-spacing:-1.8px">근태신청서</div>
<div class="abs" style="left:1513px;top:788px;width:365.5px;height:35px;border-radius:4px;background:#f9f9f9;box-shadow:0 1.5px 2px rgba(0,0,0,.07)"></div>
<svg class="abs" style="left:1522px;top:797px" width="17" height="17" viewBox="0 0 17 17"><circle cx="8.5" cy="8.5" r="8.4" fill="#5ea5fb"/><g fill="none" stroke="#fff" stroke-width="1.1" stroke-linecap="round"><path d="M7.4 9.6C6.6 8.8 6.6 7.6 7.4 6.8L9.2 5C10 4.2 11.2 4.2 12 5C12.8 5.8 12.8 7 12 7.8L11.2 8.6"/><path d="M9.6 7.4C10.4 8.2 10.4 9.4 9.6 10.2L7.8 12C7 12.8 5.8 12.8 5 12C4.2 11.2 4.2 10 5 9.2L5.8 8.4"/></g></svg>
<div class="t" style="left:1543px;top:798.5px;font-size:14px;color:#333;letter-spacing:-1.5px">출퇴근변경신청</div>
<div class="abs" style="left:1513px;top:832px;width:365.5px;height:35px;border-radius:4px;background:#f9f9f9;box-shadow:0 1.5px 2px rgba(0,0,0,.07)"></div>
<svg class="abs" style="left:1522px;top:841px" width="17" height="17" viewBox="0 0 17 17"><circle cx="8.5" cy="8.5" r="8.4" fill="#5ea5fb"/><g fill="none" stroke="#fff" stroke-width="1.1" stroke-linecap="round"><path d="M7.4 9.6C6.6 8.8 6.6 7.6 7.4 6.8L9.2 5C10 4.2 11.2 4.2 12 5C12.8 5.8 12.8 7 12 7.8L11.2 8.6"/><path d="M9.6 7.4C10.4 8.2 10.4 9.4 9.6 10.2L7.8 12C7 12.8 5.8 12.8 5 12C4.2 11.2 4.2 10 5 9.2L5.8 8.4"/></g></svg>
<div class="t" style="left:1543px;top:842.5px;font-size:14px;color:#333;letter-spacing:-1.5px">연장근무신청</div>
<div class="abs" style="left:1513px;top:876px;width:365.5px;height:35px;border-radius:4px;background:#f9f9f9;box-shadow:0 1.5px 2px rgba(0,0,0,.07)"></div>
<svg class="abs" style="left:1522px;top:885px" width="17" height="17" viewBox="0 0 17 17"><circle cx="8.5" cy="8.5" r="8.4" fill="#5ea5fb"/><g fill="none" stroke="#fff" stroke-width="1.1" stroke-linecap="round"><path d="M7.4 9.6C6.6 8.8 6.6 7.6 7.4 6.8L9.2 5C10 4.2 11.2 4.2 12 5C12.8 5.8 12.8 7 12 7.8L11.2 8.6"/><path d="M9.6 7.4C10.4 8.2 10.4 9.4 9.6 10.2L7.8 12C7 12.8 5.8 12.8 5 12C4.2 11.2 4.2 10 5 9.2L5.8 8.4"/></g></svg>
<div class="t" style="left:1543px;top:886.5px;font-size:14px;color:#333;letter-spacing:-1.4px">조퇴<span style="margin:0 1.2px 0 2.2px">/</span>외출신청</div>
</body>
</html>
